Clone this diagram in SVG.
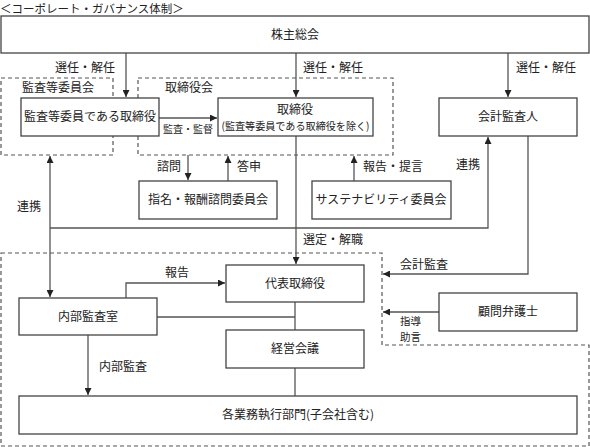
<svg xmlns="http://www.w3.org/2000/svg" width="590" height="447" viewBox="0 0 590 447">
<style>
text{font-family:"Noto Sans CJK JP","Liberation Serif",sans-serif;font-size:12px;fill:#222}
.c{text-anchor:middle}
.s{font-size:10.5px}
.box{fill:#fff;stroke:#444;stroke-width:1.3}
.dash{fill:none;stroke:#555;stroke-width:1.2;stroke-dasharray:4 3}
.ln{fill:none;stroke:#555;stroke-width:1.3}
</style>
<defs>
<marker id="a" viewBox="0 0 8 8" refX="8" refY="4" markerWidth="7" markerHeight="7" markerUnits="userSpaceOnUse" orient="auto-start-reverse"><path d="M0,0L8,4L0,8z" fill="#222"/></marker>
</defs>
<rect width="590" height="447" fill="#fff"/>
<text x="0" y="13" style="font-size:11.5px">＜コーポレート・ガバナンス体制＞</text>
<g id="groups">
<rect class="dash" x="1" y="78" width="112" height="77"/>
<rect class="dash" x="138" y="78" width="255" height="77"/>
<path class="dash" d="M1,253H382V345H589V446H1Z"/>
<text x="22" y="92">監査等委員会</text>
<text x="165" y="92">取締役会</text>
</g>
<g id="connectors">
<path class="ln" d="M126,53V97" marker-end="url(#a)"/>
<path class="ln" d="M296,53V97" marker-end="url(#a)"/>
<path class="ln" d="M508,53V97" marker-end="url(#a)"/>
<path class="ln" d="M159,118H217" marker-end="url(#a)"/>
<path class="ln" d="M188,155V180" marker-end="url(#a)"/>
<path class="ln" d="M228,181V156" marker-end="url(#a)"/>
<path class="ln" d="M354,181V156" marker-end="url(#a)"/>
<path class="ln" d="M50,156V297" marker-start="url(#a)" marker-end="url(#a)"/>
<path class="ln" d="M50,228H488V137" marker-end="url(#a)"/>
<path class="ln" d="M296,136V264" marker-end="url(#a)"/>
<path class="ln" d="M528,136V274H383" marker-end="url(#a)"/>
<path class="ln" d="M439,312H383" marker-end="url(#a)"/>
<path class="ln" d="M126,298V283H225" marker-end="url(#a)"/>
<path class="ln" d="M157,317H295"/>
<path class="ln" d="M295,302V330"/>
<path class="ln" d="M295,368V396"/>
<path class="ln" d="M88,335V395" marker-end="url(#a)"/>
<text x="55" y="72">選任・解任</text>
<text x="303" y="72">選任・解任</text>
<text x="516" y="72">選任・解任</text>
<text x="163" y="133" style="font-size:10px">監査・監督</text>
<text x="157" y="171">諮問</text>
<text x="237" y="171">答申</text>
<text x="363" y="171">報告・提言</text>
<text x="17" y="211">連携</text>
<text x="456" y="169">連携</text>
<text x="303" y="244">選定・解職</text>
<text x="400" y="269">会計監査</text>
<text x="165" y="277">報告</text>
<text x="400" y="325" class="s">指導</text>
<text x="400" y="341" class="s">助言</text>
<text x="99" y="371">内部監査</text>
</g>
<g id="n_shareholders"><rect class="box" x="1" y="16" width="588" height="37"/><text class="c" x="295" y="39">株主総会</text></g>
<g id="n_audit_directors"><rect class="box" x="21" y="98" width="138" height="38"/><text class="c" x="90" y="121">監査等委員である取締役</text></g>
<g id="n_directors"><rect class="box" x="218" y="98" width="155" height="38"/><text class="c" x="295" y="114">取締役</text><text class="c s" x="295.5" y="130" textLength="148" lengthAdjust="spacingAndGlyphs">(監査等委員である取締役を除く)</text></g>
<g id="n_accounting_auditor"><rect class="box" x="439" y="98" width="138" height="38"/><text class="c" x="508" y="121">会計監査人</text></g>
<g id="n_nomination"><rect class="box" x="139" y="181" width="138" height="38"/><text class="c" x="208" y="204">指名・報酬諮問委員会</text></g>
<g id="n_sustainability"><rect class="box" x="312" y="181" width="139" height="38"/><text class="c" x="381" y="204">サステナビリティ委員会</text></g>
<g id="n_representative"><rect class="box" x="226" y="265" width="138" height="37"/><text class="c" x="295" y="288">代表取締役</text></g>
<g id="n_internal_audit"><rect class="box" x="19" y="298" width="138" height="37"/><text class="c" x="88" y="321">内部監査室</text></g>
<g id="n_legal"><rect class="box" x="439" y="293" width="138" height="38"/><text class="c" x="508" y="316">顧問弁護士</text></g>
<g id="n_management"><rect class="box" x="226" y="330" width="138" height="38"/><text class="c" x="295" y="353">経営会議</text></g>
<g id="n_divisions"><rect class="box" x="19" y="396" width="558" height="38"/><text class="c" x="298" y="419">各業務執行部門(子会社含む)</text></g>
</svg>
